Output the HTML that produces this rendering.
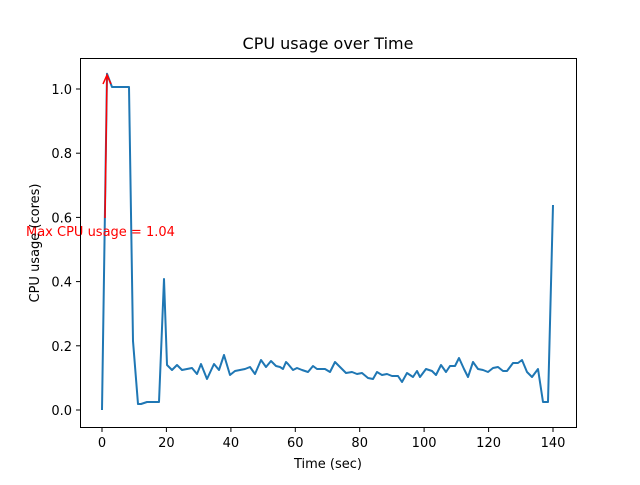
<!DOCTYPE html>
<html><head><style>body{margin:0;background:#fff}</style></head><body>
<svg width="640" height="480" xmlns="http://www.w3.org/2000/svg" font-family="DejaVu Sans, Liberation Sans, sans-serif">
<rect width="640" height="480" fill="#fff"/>
<polyline fill="none" stroke="#1f77b4" stroke-width="2" stroke-linejoin="round" points="102,410 107,73.7 112,87 129,87 133,341 138,404 141,404 147,402 159,402 164,279 167,365 172,370 177,365 182,370 187,369 192,368 197,374 201,364 207,379 214,364 219,370 224,355 230,375 235,371 240,370 245,369 250,367 255,374 261,360 266,367 271,361 276,366 280,367 283,369 286,362 288,364 293,370 297,368 302,370 308,372 313,366 317,369 325,369 330,372 335,362 341,368 346,373 352,372 357,374 362,373 368,378 373,379 377,372 382,375 387,374 392,376 398,376 402,382 407,373 413,377 417,371 420,377 426,369 432,371 436,375 441,365 446,372 450,366 455,366 459,358 464,369 468,377 473,362 478,369 483,370 488,372 493,368 498,367 503,371 507,371 513,363 518,363 522,360 527,372 532,377 538,369 543,402 548,402 553,205"/>
<line x1="105" y1="218" x2="107" y2="76" stroke="red" stroke-width="1.5"/>
<polyline points="103,84 107,75 111,84" fill="none" stroke="red" stroke-width="1.5"/>
<text x="26" y="236" font-size="13" fill="red">Max CPU usage = 1.04</text>
<rect x="80.5" y="58.5" width="496" height="369" fill="none" stroke="#000" stroke-width="1"/>
<g stroke="#000" stroke-width="1">
<line x1="102" y1="428" x2="102" y2="432"/><line x1="166.4" y1="428" x2="166.4" y2="432"/><line x1="230.9" y1="428" x2="230.9" y2="432"/><line x1="295.3" y1="428" x2="295.3" y2="432"/><line x1="359.7" y1="428" x2="359.7" y2="432"/><line x1="424.1" y1="428" x2="424.1" y2="432"/><line x1="488.6" y1="428" x2="488.6" y2="432"/><line x1="553" y1="428" x2="553" y2="432"/>
<line x1="76" y1="410" x2="80" y2="410"/><line x1="76" y1="345.8" x2="80" y2="345.8"/><line x1="76" y1="281.6" x2="80" y2="281.6"/><line x1="76" y1="217.4" x2="80" y2="217.4"/><line x1="76" y1="153.2" x2="80" y2="153.2"/><line x1="76" y1="89" x2="80" y2="89"/>
</g>
<g font-size="13" text-anchor="middle" fill="#000">
<text x="102" y="447">0</text><text x="166.4" y="447">20</text><text x="230.9" y="447">40</text><text x="295.3" y="447">60</text><text x="359.7" y="447">80</text><text x="424.1" y="447">100</text><text x="488.6" y="447">120</text><text x="553" y="447">140</text>
</g>
<g font-size="13" text-anchor="end" fill="#000">
<text x="72" y="415">0.0</text><text x="72" y="350.8">0.2</text><text x="72" y="286.6">0.4</text><text x="72" y="222.4">0.6</text><text x="72" y="158.2">0.8</text><text x="72" y="94">1.0</text>
</g>
<text x="328" y="468" font-size="13" text-anchor="middle">Time (sec)</text>
<text transform="translate(39,243) rotate(-90)" font-size="13" text-anchor="middle">CPU usage (cores)</text>
<text x="328" y="49" font-size="16" text-anchor="middle">CPU usage over Time</text>
</svg>
</body></html>
